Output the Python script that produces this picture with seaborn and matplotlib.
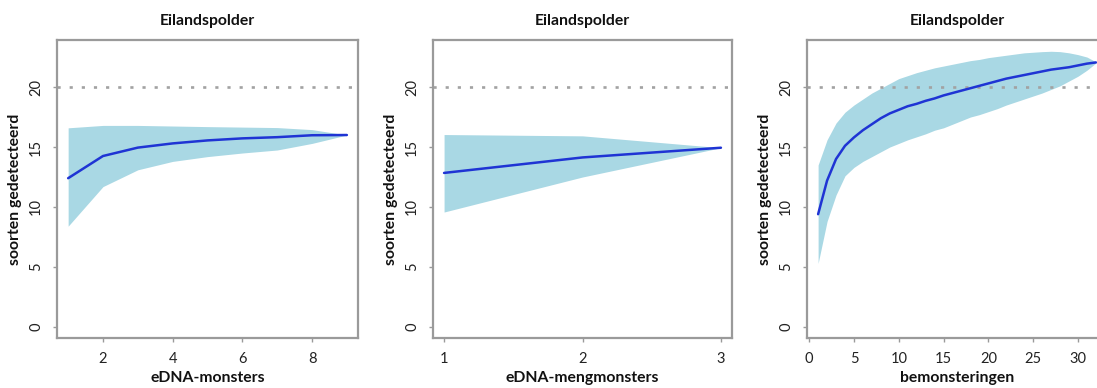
import numpy as np
import pandas as pd
import matplotlib
matplotlib.use("Agg")
import matplotlib.pyplot as plt
import seaborn as sns

# ---- data ----
title = "Eilandspolder"
ylabel = "soorten gedetecteerd"
reference_level = 20

p1_x = [1, 2, 3, 4, 5, 6, 7, 8, 9]
p1_mean = [12.4, 14.25, 14.95, 15.3, 15.55, 15.72, 15.82, 15.98, 16.0]
p1_upper = [16.6, 16.8, 16.8, 16.75, 16.7, 16.66, 16.62, 16.45, 16.0]
p1_lower = [8.4, 11.7, 13.1, 13.8, 14.2, 14.5, 14.75, 15.3, 16.0]
p1_xlabel = "eDNA-monsters"
p1_xticks = [2, 4, 6, 8]

p2_x = [1, 2, 3]
p2_mean = [12.84, 14.13, 14.94]
p2_upper = [16.04, 15.93, 14.94]
p2_lower = [9.58, 12.5, 14.94]
p2_xlabel = "eDNA-mengmonsters"
p2_xticks = [1, 2, 3]

p3_x = list(range(1, 33))
p3_mean = [9.4, 12.2, 14.0, 15.1, 15.8, 16.4, 16.9, 17.4, 17.8, 18.1,
           18.4, 18.6, 18.85, 19.05, 19.3, 19.5, 19.7, 19.9, 20.1, 20.3,
           20.5, 20.7, 20.85, 21.0, 21.15, 21.3, 21.45, 21.55, 21.65, 21.8,
           21.95, 22.05]
p3_upper = [13.5, 15.6, 17.0, 17.9, 18.5, 19.0, 19.5, 19.9, 20.3, 20.7,
            20.95, 21.2, 21.4, 21.6, 21.75, 21.9, 22.05, 22.2, 22.3, 22.45,
            22.55, 22.65, 22.75, 22.85, 22.9, 22.95, 22.98, 22.95, 22.85, 22.7,
            22.5, 22.1]
p3_lower = [5.3, 8.8, 11.0, 12.6, 13.3, 13.8, 14.2, 14.6, 15.0, 15.3,
            15.6, 15.85, 16.1, 16.4, 16.6, 16.9, 17.2, 17.5, 17.7, 17.95,
            18.2, 18.5, 18.75, 19.0, 19.25, 19.5, 19.8, 20.1, 20.5, 20.9,
            21.4, 22.0]
p3_xlabel = "bemonsteringen"
p3_xticks = [0, 5, 10, 15, 20, 25, 30]

yticks = [0, 5, 10, 15, 20]

# ---- style ----
sns.set_style("white")
plt.rcParams["font.family"] = ["Lato", "DejaVu Sans"]

BAND = "#a9d8e4"
LINE = "#1f34d4"
FRAME = "#9a9a9a"

fig = plt.figure(figsize=(10.97, 3.88), dpi=100)
W, H = 1097, 388

def make_ax(left_px, right_px):
    top_px, bottom_px = 40, 338
    return fig.add_axes([left_px / W, (H - bottom_px) / H,
                         (right_px - left_px) / W, (bottom_px - top_px) / H])

panels = [
    (make_ax(57, 358), p1_x, p1_mean, p1_upper, p1_lower, p1_xlabel, p1_xticks, (0.68, 9.32)),
    (make_ax(433, 732), p2_x, p2_mean, p2_upper, p2_lower, p2_xlabel, p2_xticks, (0.92, 3.08)),
    (make_ax(807, 1107), p3_x, p3_mean, p3_upper, p3_lower, p3_xlabel, p3_xticks, (-0.24, 33.24)),
]

for ax, x, mean, upper, lower, xlab, xt, xlim in panels:
    df = pd.DataFrame({"x": x, "mean": mean, "upper": upper, "lower": lower})
    ax.fill_between(df["x"], df["lower"], df["upper"], color=BAND, linewidth=0, zorder=1)
    ax.axhline(reference_level, color="#a2a2a2", linestyle=(0, (1.2, 3.4)),
               linewidth=1.9, zorder=2)
    sns.lineplot(data=df, x="x", y="mean", ax=ax, color=LINE, linewidth=1.8,
                 zorder=3, estimator=None)
    ax.set_xlim(*xlim)
    ax.set_ylim(-0.92, 23.92)
    ax.set_xticks(xt)
    ax.set_xticklabels([str(v) for v in xt])
    ax.set_yticks(yticks)
    ax.set_yticklabels([str(v) for v in yticks], rotation=90, va="center")
    ax.tick_params(axis="both", which="both", direction="out", length=3,
                   width=1, color=FRAME, labelsize=10.5, labelcolor="#222222",
                   left=True, bottom=True)
    ax.tick_params(axis="x", pad=7)
    ax.tick_params(axis="y", pad=7)
    for s in ax.spines.values():
        s.set_color(FRAME)
        s.set_linewidth(1.6)
        s.set_visible(True)
    ax.set_title(title, fontsize=11.3, fontweight="bold", pad=11, color="#111111")
    ax.set_xlabel(xlab, fontsize=11.3, fontweight="bold", labelpad=4, color="#111111")
    ax.set_ylabel(ylabel, fontsize=11.3, fontweight="bold", labelpad=5, color="#111111")
    ax.grid(False)

fig.savefig("out.png", dpi=100)
